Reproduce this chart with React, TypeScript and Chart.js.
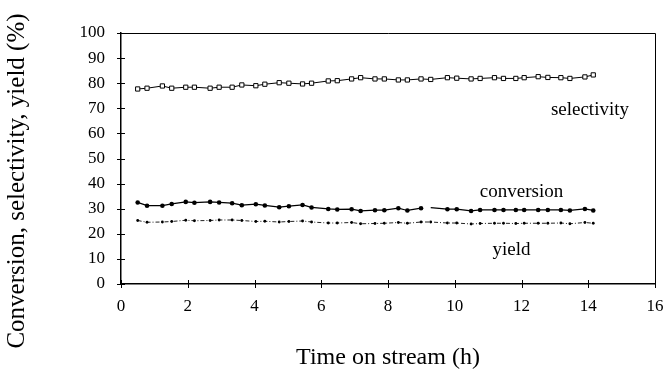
import React, { useEffect, useRef } from "react";
import { Chart, registerables } from "chart.js";

Chart.register(...registerables);

const timeH = [
  0.5, 0.78, 1.24, 1.52, 1.94, 2.2, 2.67, 2.94, 3.33, 3.62,
  4.04, 4.31, 4.74, 5.03, 5.44, 5.71, 6.21, 6.48, 6.91, 7.18,
  7.61, 7.89, 8.31, 8.58, 8.99, 9.28, 9.78, 10.06, 10.49, 10.76,
  11.19, 11.46, 11.83, 12.08, 12.5, 12.79, 13.18, 13.45, 13.9, 14.15,
];

const selectivity = [
  77.7, 78.0, 78.9, 78.0, 78.4, 78.4, 78.0, 78.4, 78.4, 79.3,
  79.0, 79.6, 80.2, 80.0, 79.7, 80.0, 80.9, 81.0, 81.7, 82.2,
  81.7, 81.7, 81.3, 81.3, 81.7, 81.5, 82.2, 82.0, 81.7, 81.9,
  82.2, 81.9, 81.9, 82.2, 82.6, 82.3, 82.2, 81.9, 82.5, 83.3,
];

const conversion = [
  32.5, 31.2, 31.2, 31.9, 32.7, 32.4, 32.7, 32.5, 32.2, 31.4,
  31.8, 31.3, 30.6, 31.0, 31.5, 30.5, 29.9, 29.7, 29.8, 29.1,
  29.4, 29.4, 30.2, 29.3, 30.2, 30.4, 29.8, 29.8, 29.1, 29.5,
  29.5, 29.5, 29.5, 29.5, 29.5, 29.5, 29.5, 29.3, 29.9, 29.3,
];

const yieldPct = [
  25.3, 24.6, 24.7, 24.9, 25.4, 25.2, 25.3, 25.5, 25.5, 25.3,
  24.9, 25.0, 24.7, 24.9, 25.1, 24.7, 24.3, 24.3, 24.5, 24.0,
  24.1, 24.2, 24.5, 24.2, 24.7, 24.7, 24.3, 24.3, 23.9, 24.1,
  24.2, 24.2, 24.1, 24.2, 24.2, 24.2, 24.3, 24.0, 24.5, 24.2,
];

const xTicks = [0, 2, 4, 6, 8, 10, 12, 14, 16];
const yTicks = [0, 10, 20, 30, 40, 50, 60, 70, 80, 90, 100];

const seriesNames = ["selectivity", "conversion", "yield"];
const nameX = [14.05, 12.0, 11.7];
const nameY = [69.3, 36.7, 13.5];

const xTitle = "Time on stream (h)";
const yTitle = "Conversion, selectivity, yield (%)";

const SERIF = "'Liberation Serif', 'DejaVu Serif', serif";

export default function App() {
  const ref = useRef<HTMLCanvasElement | null>(null);

  useEffect(() => {
    const canvas = ref.current;
    if (!canvas) return;

    const decor = {
      id: "decor",
      afterDraw(chart: any) {
        const ctx = chart.ctx;
        const xs = chart.scales.x;
        const ys = chart.scales.y;
        const a = chart.chartArea;
        ctx.save();
        ctx.strokeStyle = "#000";
        ctx.lineWidth = 1;
        ctx.beginPath();
        ctx.moveTo(a.left, a.top + 0.5);
        ctx.lineTo(a.right + 0.5, a.top + 0.5);
        ctx.lineTo(a.right + 0.5, a.bottom);
        ctx.stroke();
        ctx.beginPath();
        yTicks.forEach((v) => {
          const py = Math.round(ys.getPixelForValue(v)) + 0.5;
          ctx.moveTo(a.left - 4, py);
          ctx.lineTo(a.left + 4, py);
        });
        xTicks.forEach((v) => {
          const px = Math.round(xs.getPixelForValue(v)) + 0.5;
          ctx.moveTo(px, a.bottom - 4);
          ctx.lineTo(px, a.bottom + 4);
        });
        ctx.stroke();
        ctx.fillStyle = "#000";
        ctx.font = `19px ${SERIF}`;
        ctx.textAlign = "center";
        ctx.textBaseline = "middle";
        seriesNames.forEach((n, i) => {
          ctx.fillText(n, xs.getPixelForValue(nameX[i]), ys.getPixelForValue(nameY[i]));
        });
        ctx.font = `24px ${SERIF}`;
        ctx.fillText(xTitle, (a.left + a.right) / 2, 358);
        ctx.font = `25px ${SERIF}`;
        ctx.translate(17, 181);
        ctx.rotate(-Math.PI / 2);
        ctx.fillText(yTitle, 0, 0);
        ctx.restore();
      },
    };

    const chart = new Chart(canvas, {
      type: "line",
      data: {
        datasets: [
          {
            label: "selectivity",
            data: timeH.map((t, i) => ({ x: t, y: selectivity[i] })),
            borderColor: "#000",
            borderWidth: 1,
            pointStyle: "rect",
            pointRadius: 3,
            pointBackgroundColor: "#fff",
            pointBorderColor: "#000",
            pointBorderWidth: 1,
          },
          {
            label: "conversion",
            data: timeH.map((t, i) => ({ x: t, y: conversion[i] })),
            borderColor: "#000",
            borderWidth: 1.2,
            pointStyle: "circle",
            pointRadius: (c: any) => (c.dataIndex === 25 ? 0 : 2.3),
            pointBackgroundColor: "#000",
            pointBorderColor: "#000",
            pointBorderWidth: 0,
            segment: {
              borderColor: (c: any) => (c.p0DataIndex === 24 ? "rgba(0,0,0,0)" : "#000"),
            },
          },
          {
            label: "yield",
            data: timeH.map((t, i) => ({ x: t, y: yieldPct[i] })),
            borderColor: "#222",
            borderWidth: 1,
            borderDash: [4, 2, 1, 2],
            pointStyle: "circle",
            pointRadius: 1.4,
            pointBackgroundColor: "#000",
            pointBorderWidth: 0,
          },
        ],
      },
      options: {
        responsive: false,
        animation: false,
        devicePixelRatio: 1,
        layout: { padding: { top: 33, right: 13, bottom: 0, left: 0 } },
        plugins: { legend: { display: false }, tooltip: { enabled: false } },
        scales: {
          x: {
            type: "linear",
            min: 0,
            max: 16,
            afterBuildTicks: (s: any) => {
              s.ticks = xTicks.map((v) => ({ value: v }));
            },
            afterFit: (s: any) => {
              s.height = 100;
            },
            grid: { display: false },
            border: { display: true, color: "#000", width: 1.5 },
            ticks: {
              color: "#000",
              font: { family: SERIF, size: 17 },
              padding: 4,
              maxRotation: 0,
            },
          },
          y: {
            type: "linear",
            min: 0,
            max: 100,
            afterBuildTicks: (s: any) => {
              s.ticks = yTicks.map((v) => ({ value: v }));
            },
            afterFit: (s: any) => {
              s.width = 121;
            },
            grid: { display: false },
            border: { display: true, color: "#000", width: 1.5 },
            ticks: {
              color: "#000",
              font: { family: SERIF, size: 17 },
              padding: 8,
            },
          },
        },
      },
      plugins: [decor],
    } as any);

    return () => chart.destroy();
  }, []);

  return (
    <div style={{ position: "absolute", left: 0, top: 0, width: 668, height: 384, background: "#fff" }}>
      <canvas ref={ref} width={668} height={384} />
    </div>
  );
}
